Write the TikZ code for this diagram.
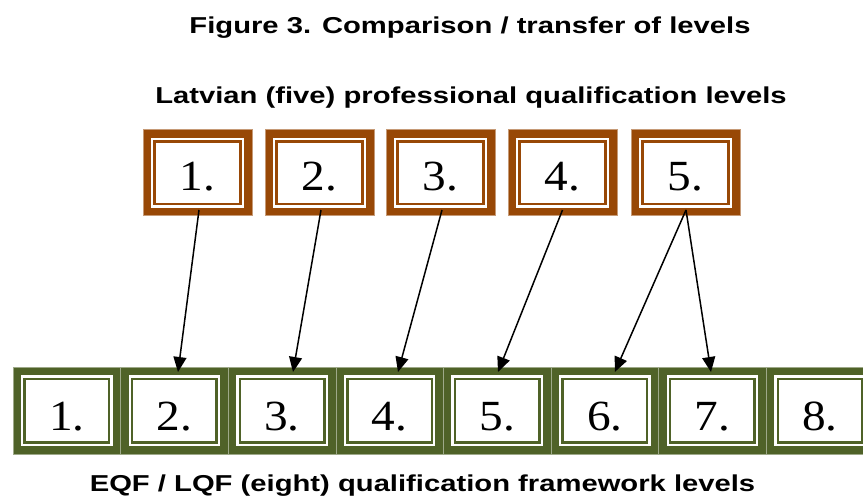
\documentclass[tikz,border=0pt]{standalone}
\usepackage{graphicx}
\usepackage{fontspec}
\setmainfont{Liberation Serif}
\newfontfamily\hdfont{Liberation Sans}
\usetikzlibrary{arrows.meta,calc}
\definecolor{lvbrown}{HTML}{984806}
\definecolor{lvgreen}{HTML}{4F6228}
\newcommand{\hwide}[1]{\scalebox{1.27}[1]{#1}}
\newcommand{\dwide}[1]{\scalebox{1.1}[1]{#1}}
\tikzset{
  lvlbox/.style={fill=#1, draw=#1!55!white, line width=0.6pt, inner sep=0pt,
    font=\fontsize{43}{43}\selectfont, text=black,
    path picture={
      \fill[white] ([shift={(8pt,8pt)}]path picture bounding box.south west) rectangle ([shift={(-8pt,-8pt)}]path picture bounding box.north east);
      \fill[#1] ([shift={(10.3pt,10.3pt)}]path picture bounding box.south west) rectangle ([shift={(-10.3pt,-10.3pt)}]path picture bounding box.north east);
      \fill[white] ([shift={(12.8pt,12.8pt)}]path picture bounding box.south west) rectangle ([shift={(-12.8pt,-12.8pt)}]path picture bounding box.north east);
    }},
  topbox/.style={lvlbox=lvbrown, minimum width=109pt, minimum height=86pt, text height=36pt, text depth=0pt},
  botbox/.style={lvlbox=lvgreen, minimum width=107.6pt, minimum height=86.7pt, text height=40pt, text depth=0pt},
  hd/.style={font=\hdfont\bfseries\fontsize{23}{23}\selectfont, inner sep=0pt, anchor=base},
  arr/.style={line width=1.5pt, -{Triangle[width=13pt,length=15pt]}}
}
\begin{document}
\begin{tikzpicture}[x=1pt,y=-1pt]
\useasboundingbox (0,0) rectangle (863,498);
\fill[white] (0,0) rectangle (863,498);
% headings
\node[hd] (title) at (470,33.3) {\hwide{Figure 3. Comparison / transfer of levels}};
\node[hd] (lvhead) at (471,103.3) {\hwide{Latvian (five) professional qualification levels}};
\node[hd] (eqfhead) at (422.5,491) {\hwide{EQF / LQF (eight) qualification framework levels}};
% top boxes
\node[topbox] (t1) at (197.5,172.7) {\dwide{1.}};
\node[topbox] (t2) at (319.5,172.7) {\dwide{2.}};
\node[topbox] (t3) at (440.5,172.7) {\dwide{3.}};
\node[topbox] (t4) at (562.5,172.7) {\dwide{4.}};
\node[topbox] (t5) at (685.5,172.7) {\dwide{5.}};
% bottom boxes
\foreach \i in {1,...,8}{
  \node[botbox] (b\i) at ({66.8+(\i-1)*107.6},410.65) {\dwide{\i.}};
}
% arrows
\draw[arr] ($(t1.south)+(1.5,-6)$) -- ($(b2.north)+(3.6,5)$);
\draw[arr] ($(t2.south)+(1.5,-6)$) -- ($(b3.north)+(11,5)$);
\draw[arr] ($(t3.south)+(1.5,-6)$) -- ($(b4.north)+(8.4,5)$);
\draw[arr] ($(t4.south)+(0,-6)$) -- ($(b5.north)+(0.8,5)$);
\draw[arr] ($(t5.south)+(0.5,-6)$) -- ($(b6.north)+(10,5)$);
\draw[arr] ($(t5.south)+(0.5,-6)$) -- ($(b7.north)+(-1.4,5)$);
\end{tikzpicture}
\end{document}
